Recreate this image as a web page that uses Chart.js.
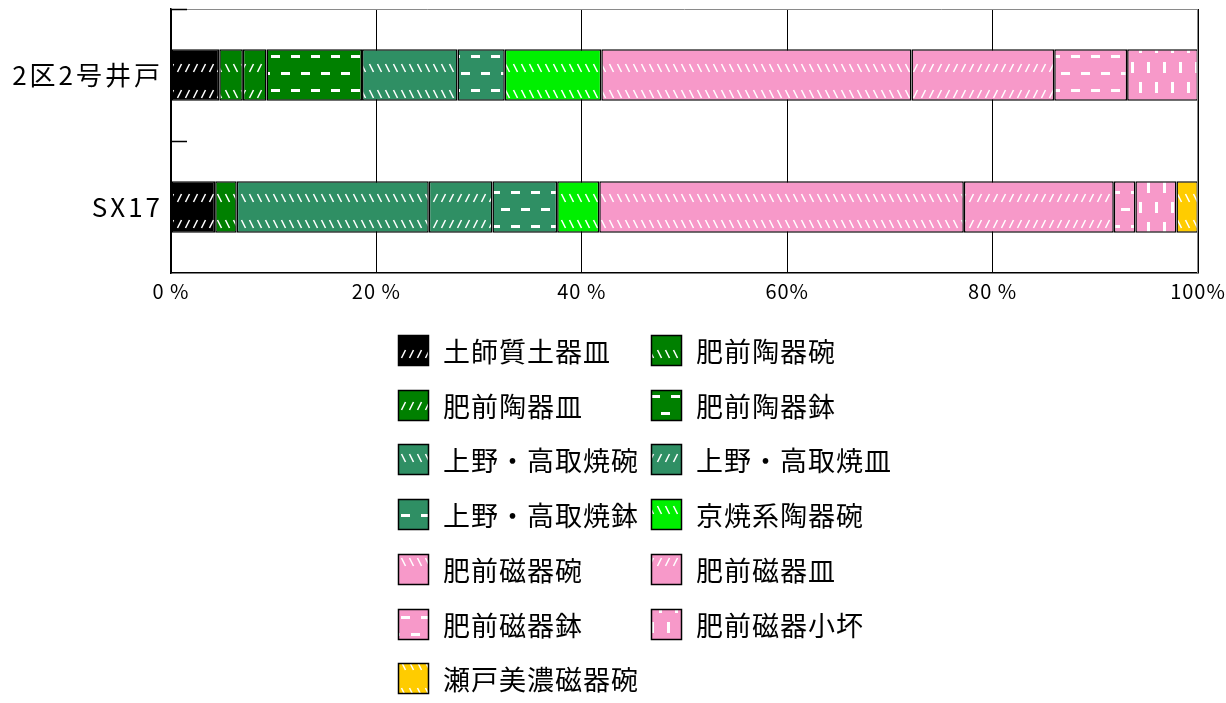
<!DOCTYPE html>
<html>
<head>
<meta charset="utf-8">
<script src="https://cdn.jsdelivr.net/npm/chart.js@4"></script>
<style>
  html, body { margin: 0; padding: 0; background: #fff; }
  canvas { display: block; }
</style>
</head>
<body>
<canvas id="chart" width="1226" height="703"></canvas>
<script>
// ==================== DATA ====================
const sites = ['2区2号井戸', 'SX17'];

const seriesNames = [
    '土師質土器皿', '肥前陶器碗', '肥前陶器皿', '肥前陶器鉢',
    '上野・高取焼碗', '上野・高取焼皿', '上野・高取焼鉢', '京焼系陶器碗',
    '肥前磁器碗', '肥前磁器皿', '肥前磁器鉢', '肥前磁器小坏', '瀬戸美濃磁器碗'
];

// percent share per series, in the order of seriesNames
const well2Values = [4.7, 2.3, 2.3, 9.3, 9.3, 0, 4.6, 9.4, 30.2, 13.9, 7.1, 6.9, 0];
const sx17Values  = [4.3, 2.1, 0, 0, 18.7, 6.2, 6.3, 4.1, 35.5, 14.6, 2.1, 4.0, 2.1];

const xTickLabels = ['0 %', '20 %', '40 %', '60%', '80 %', '100%'];

// ==================== STYLES ====================
const seriesColors = [
    '#000000', '#008000', '#008000', '#008000',
    '#2f8f64', '#2f8f64', '#2f8f64', '#00f000',
    '#f799c9', '#f799c9', '#f799c9', '#f799c9', '#ffcc00'
];
const seriesMarks = ['/', '\\', '/', '-', '\\', '/', '-', '\\', '\\', '/', '-', '|', '\\'];

const FONT = '"Noto Sans CJK JP", "Noto Sans", sans-serif';

function makePattern(color, mark) {
    const tile = document.createElement('canvas');
    const sizes = { '/': [8, 26], '\\': [8, 26], '-': [20, 34], '|': [16, 40] };
    tile.width = sizes[mark][0];
    tile.height = sizes[mark][1];
    const c = tile.getContext('2d');
    c.fillStyle = color;
    c.fillRect(0, 0, tile.width, tile.height);
    c.strokeStyle = '#ffffff';
    c.fillStyle = '#ffffff';
    c.lineWidth = 1.6;
    if (mark === '/') {
        c.beginPath(); c.moveTo(1.5, 20); c.lineTo(5.5, 12); c.stroke();
    } else if (mark === '\\') {
        c.beginPath(); c.moveTo(1.5, 12); c.lineTo(5.5, 20); c.stroke();
    } else if (mark === '-') {
        c.fillRect(1, 4, 9, 3);
        c.fillRect(11, 21, 9, 3);
    } else if (mark === '|') {
        c.fillRect(3, 2, 3, 11);
        c.fillRect(11, 22, 3, 11);
    }
    const ctx = document.createElement('canvas').getContext('2d');
    return ctx.createPattern(tile, 'repeat');
}

const datasets = seriesNames.map((name, i) => ({
    label: name,
    data: [well2Values[i], sx17Values[i]],
    backgroundColor: makePattern(seriesColors[i], seriesMarks[i]),
    borderColor: '#000000',
    borderWidth: 1.5,
    borderSkipped: false,
    categoryPercentage: 1,
    barPercentage: 0.39
}));

// ==================== PLUGINS ====================
// character spacing: tight for the x ticks (drawn first), wider for the site names
const spacingPlugin = {
    id: 'spacing',
    beforeDraw(chart) {
        if ('letterSpacing' in chart.ctx) chart.ctx.letterSpacing = '1px';
    },
    afterDatasetsDraw(chart) {
        if ('letterSpacing' in chart.ctx) chart.ctx.letterSpacing = '3px';
    }
};

// grey top/right frame and short inner ticks on the category axis
const framePlugin = {
    id: 'frame',
    afterDatasetsDraw(chart) {
        const { ctx, chartArea: a, scales: { y } } = chart;
        ctx.save();
        ctx.strokeStyle = '#8a8a8a';
        ctx.lineWidth = 1;
        ctx.beginPath();
        ctx.moveTo(a.left, a.top + 0.5); ctx.lineTo(a.right, a.top + 0.5);
        ctx.moveTo(a.right - 0.5, a.top); ctx.lineTo(a.right - 0.5, a.bottom);
        ctx.stroke();
        const mid = (y.getPixelForValue(0) + y.getPixelForValue(1)) / 2;
        ctx.strokeStyle = '#000';
        ctx.lineWidth = 1.5;
        ctx.beginPath();
        [a.top + 0.5, Math.round(mid) + 0.5].forEach(py => {
            ctx.moveTo(a.left, py); ctx.lineTo(a.left + 16, py);
        });
        ctx.stroke();
        ctx.restore();
    }
};

// two-column legend under the plot
const gridLegendPlugin = {
    id: 'gridLegend',
    afterDraw(chart) {
        const { ctx } = chart;
        const colX = [398, 651];
        const top = 335, rowGap = 54.7, box = 31;
        ctx.save();
        ctx.font = '27px ' + FONT;
        ctx.textBaseline = 'middle';
        ctx.textAlign = 'left';
        if ('letterSpacing' in ctx) ctx.letterSpacing = '1px';
        chart.data.datasets.forEach((ds, i) => {
            const bx = colX[i % 2];
            const by = Math.round(top + Math.floor(i / 2) * rowGap);
            ctx.fillStyle = ds.backgroundColor;
            ctx.fillRect(bx, by, box, box);
            ctx.strokeStyle = '#000';
            ctx.lineWidth = 1.5;
            ctx.strokeRect(bx + 0.5, by + 0.5, box - 1, box - 1);
            ctx.fillStyle = '#000';
            ctx.fillText(ds.label, bx + 45, by + box / 2 + 1);
        });
        ctx.restore();
    }
};

// ==================== CHART ====================
new Chart(document.getElementById('chart'), {
    type: 'bar',
    data: { labels: sites, datasets },
    options: {
        indexAxis: 'y',
        responsive: false,
        animation: false,
        devicePixelRatio: 1,
        layout: { padding: { top: 9, right: 28, left: 0, bottom: 395 } },
        plugins: {
            legend: { display: false },
            tooltip: { enabled: false }
        },
        scales: {
            x: {
                stacked: true,
                min: 0,
                max: 100,
                ticks: {
                    stepSize: 20,
                    padding: 6,
                    color: '#000',
                    font: { family: FONT, size: 20 },
                    maxRotation: 0,
                    callback: (v, i) => xTickLabels[i]
                },
                grid: { color: '#000', lineWidth: 1, drawTicks: false },
                border: { color: '#000', width: 1.5 },
                afterFit: s => {
                    s.height = 35;
                    s.paddingLeft = 0; s.paddingRight = 0;
                    s.paddingTop = 0; s.paddingBottom = 0;
                }
            },
            y: {
                stacked: true,
                ticks: {
                    z: 1,
                    padding: 8,
                    color: '#000',
                    font: { family: FONT, size: 26 }
                },
                grid: { display: false, drawTicks: false },
                border: { display: true, color: '#000', width: 1.5 },
                afterFit: s => {
                    s.width = 171;
                    s.paddingLeft = 0; s.paddingRight = 0;
                    s.paddingTop = 0; s.paddingBottom = 0;
                }
            }
        }
    },
    plugins: [spacingPlugin, framePlugin, gridLegendPlugin]
});
</script>
</body>
</html>
